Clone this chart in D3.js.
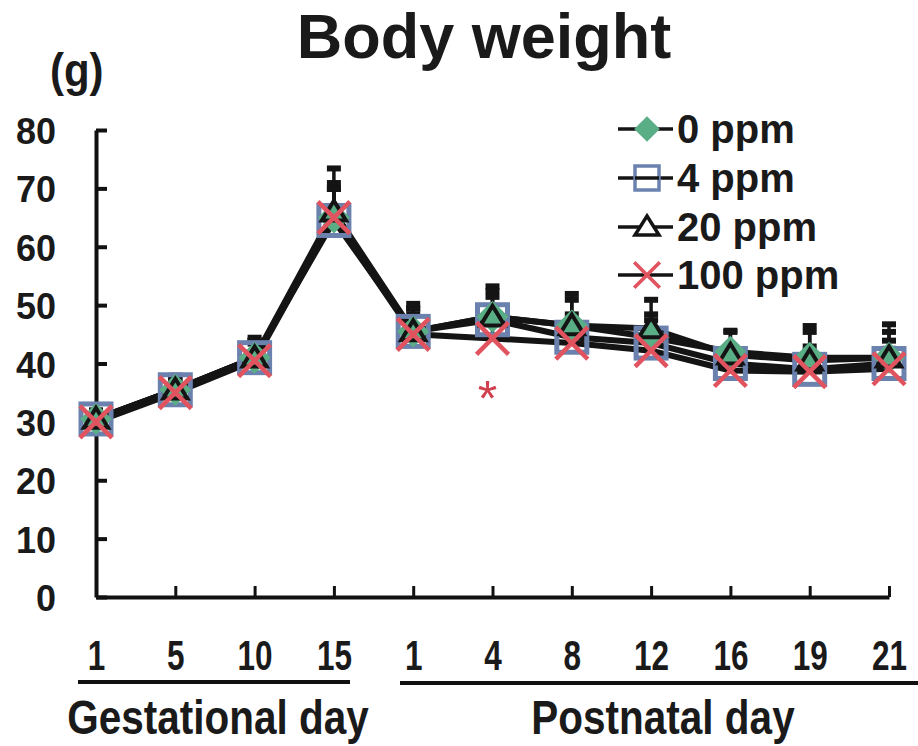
<!DOCTYPE html>
<html>
<head>
<meta charset="utf-8">
<script src="https://cdn.jsdelivr.net/npm/d3@7"></script>
<style>
  body { margin: 0; background: #fff; }
  text { font-family: Arial, "Liberation Sans", sans-serif; font-weight: bold; fill: #1a1a1a; }
</style>
</head>
<body>
<svg id="chart" width="918" height="746"></svg>
<script>
// day labels along the x axis
const days = ['1', '5', '10', '15', '1', '4', '8', '12', '16', '19', '21'];
const groupNames = ['Gestational day', 'Postnatal day'];
const yTicks = [0, 10, 20, 30, 40, 50, 60, 70, 80];

// means (g)
const ppm0   = [30.5, 35.5, 41.0, 65.0, 45.5, 48.0, 46.5, 44.5, 42.0, 41.0, 41.0];
const ppm4   = [30.5, 35.5, 41.0, 64.5, 45.5, 47.5, 44.5, 43.5, 40.0, 39.0, 40.0];
const ppm20  = [30.5, 35.5, 41.0, 66.0, 45.5, 48.0, 46.5, 46.0, 41.5, 40.5, 41.0];
const ppm100 = [30.0, 35.0, 40.5, 65.0, 45.0, 44.3, 43.5, 42.2, 38.8, 38.6, 39.1];

// SD (upper bars only)
const sd0   = [1.5, 2.0, 3.0, 6.0, 4.0, 4.5, 4.5, 4.0, 3.5, 4.5, 4.5];
const sd4   = [1.5, 2.0, 3.0, 5.5, 4.0, 4.0, 4.0, 4.0, 3.0, 4.0, 4.0];
const sd20  = [1.5, 2.5, 3.5, 7.5, 4.8, 5.3, 5.5, 5.0, 4.2, 6.0, 5.8];
const sd100 = [1.5, 2.0, 3.0, 5.0, 3.5, 3.5, 3.5, 3.5, 3.0, 3.5, 3.5];

const seriesNames = ['0 ppm', '4 ppm', '20 ppm', '100 ppm'];
const seriesMarks = ['diamond', 'square', 'triangle', 'cross'];
const signifDay = 5; // * under PND4

const series = [
  { name: seriesNames[0], mark: seriesMarks[0], vals: ppm0, sd: sd0 },
  { name: seriesNames[1], mark: seriesMarks[1], vals: ppm4, sd: sd4 },
  { name: seriesNames[2], mark: seriesMarks[2], vals: ppm20, sd: sd20 },
  { name: seriesNames[3], mark: seriesMarks[3], vals: ppm100, sd: sd100 }
];

const svg = d3.select('#chart');

const x = d3.scalePoint()
  .domain(d3.range(days.length))
  .range([96, 889]);

const y = d3.scaleLinear()
  .domain([0, 80])
  .range([597, 130]);

// title
svg.append('text')
  .attr('x', 484).attr('y', 58)
  .attr('text-anchor', 'middle')
  .style('font-size', '63px')
  .text('Body weight');

svg.append('text')
  .attr('transform', 'translate(50,86) scale(1,1.1)')
  .style('font-size', '42px')
  .text('(g)');

// y axis
const yAxis = svg.append('g')
  .attr('transform', 'translate(96,0)')
  .call(d3.axisLeft(y).tickValues(yTicks).tickSizeInner(-11).tickSizeOuter(0).tickPadding(40));
yAxis.select('.domain').attr('stroke', '#111').attr('stroke-width', 4);
yAxis.selectAll('.tick line').attr('stroke', '#111').attr('stroke-width', 4);
yAxis.selectAll('.tick text')
  .attr('fill', '#1a1a1a')
  .style('font-size', '36px')
  .style('font-family', 'Arial, "Liberation Sans", sans-serif')
  .attr('dy', '0.36em')
  .attr('transform', 'scale(1,1.05)');

// x axis
const xAxis = svg.append('g')
  .attr('transform', 'translate(0,597)')
  .call(d3.axisBottom(x).tickFormat(i => days[i]).tickSizeInner(-11).tickSizeOuter(0).tickPadding(36));
xAxis.select('.domain').attr('stroke', '#111').attr('stroke-width', 4);
xAxis.selectAll('.tick line').attr('stroke', '#111').attr('stroke-width', 3);
xAxis.selectAll('.tick text')
  .attr('fill', '#1a1a1a')
  .style('font-size', '35px')
  .style('font-family', 'Arial, "Liberation Sans", sans-serif')
  .attr('transform', 'scale(0.9,1.2)');

// group underlines + names
const underline = [[78, 350, 682], [400, 918, 683]];
const groupCenter = [218, 663];
groupNames.forEach((g, i) => {
  svg.append('line')
    .attr('x1', underline[i][0]).attr('x2', underline[i][1])
    .attr('y1', underline[i][2]).attr('y2', underline[i][2])
    .attr('stroke', '#111').attr('stroke-width', 4);
  svg.append('text')
    .attr('transform', 'translate(' + groupCenter[i] + ',734) scale(0.9,1.05)')
    .attr('text-anchor', 'middle')
    .style('font-size', '45px')
    .text(g);
});

// lines
const line = d3.line()
  .x((d, i) => x(i))
  .y(d => y(d));

series.forEach(s => {
  svg.append('path')
    .datum(s.vals)
    .attr('d', line)
    .attr('fill', 'none')
    .attr('stroke', '#141414')
    .attr('stroke-width', 6)
    .attr('stroke-linejoin', 'round');
});

// error bars
series.forEach(s => {
  const eb = svg.append('g');
  s.vals.forEach((v, i) => {
    eb.append('line')
      .attr('x1', x(i)).attr('x2', x(i))
      .attr('y1', y(v)).attr('y2', y(v + s.sd[i]))
      .attr('stroke', '#141414').attr('stroke-width', 3.5);
    eb.append('rect')
      .attr('x', x(i) - 7).attr('y', y(v + s.sd[i]) - 2.5)
      .attr('width', 14).attr('height', 6)
      .attr('fill', '#141414');
  });
});

// markers
function drawMark(g, mark, cx, cy, k) {
  if (mark === 'square') {
    g.append('rect')
      .attr('x', cx - 15 * k).attr('y', cy - 15 * k)
      .attr('width', 30 * k).attr('height', 30 * k)
      .attr('fill', 'none')
      .attr('stroke', '#6b82ae').attr('stroke-width', 5 * k);
  } else if (mark === 'diamond') {
    const r = 16 * k;
    g.append('path')
      .attr('d', 'M' + cx + ',' + (cy - r) + 'L' + (cx + r) + ',' + cy + 'L' + cx + ',' + (cy + r) + 'L' + (cx - r) + ',' + cy + 'Z')
      .attr('fill', '#5aae86');
  } else if (mark === 'triangle') {
    const h = 11 * k;
    g.append('path')
      .attr('d', 'M' + cx + ',' + (cy - h) + 'L' + (cx + h * 1.1) + ',' + (cy + h * 0.8) + 'L' + (cx - h * 1.1) + ',' + (cy + h * 0.8) + 'Z')
      .attr('fill', 'none')
      .attr('stroke', '#141414').attr('stroke-width', 4);
  } else {
    const r = 16 * k;
    g.append('path')
      .attr('d', 'M' + (cx - r) + ',' + (cy - r) + 'L' + (cx + r) + ',' + (cy + r) + 'M' + (cx - r) + ',' + (cy + r) + 'L' + (cx + r) + ',' + (cy - r))
      .attr('stroke', '#e0535f').attr('stroke-width', 4.5 * k);
  }
}

const order = [1, 0, 2, 3];
order.forEach(si => {
  const s = series[si];
  const g = svg.append('g');
  s.vals.forEach((v, i) => drawMark(g, s.mark, x(i), y(v), 1));
});

// significance asterisk
svg.append('text')
  .attr('x', x(signifDay) - 5).attr('y', 416)
  .attr('text-anchor', 'middle')
  .style('font-size', '50px')
  .style('font-weight', 'normal')
  .style('fill', '#d0404e')
  .text('*');

// legend
const legY = [129, 178, 227, 275];
series.forEach((s, i) => {
  const g = svg.append('g');
  g.append('line')
    .attr('x1', 618).attr('x2', 673)
    .attr('y1', legY[i]).attr('y2', legY[i])
    .attr('stroke', '#141414').attr('stroke-width', 3.5);
  if (s.mark === 'triangle') {
    g.append('path')
      .attr('d', 'M647,' + (legY[i] - 11) + 'L659,' + (legY[i] + 8) + 'L635,' + (legY[i] + 8) + 'Z')
      .attr('fill', '#fff').attr('stroke', '#141414').attr('stroke-width', 3.5);
  } else if (s.mark === 'square') {
    g.append('rect')
      .attr('x', 635).attr('y', legY[i] - 12)
      .attr('width', 24).attr('height', 24)
      .attr('fill', '#fff').attr('stroke', '#6b82ae').attr('stroke-width', 3.5);
    g.append('line')
      .attr('x1', 635).attr('x2', 659)
      .attr('y1', legY[i]).attr('y2', legY[i])
      .attr('stroke', '#141414').attr('stroke-width', 3.5);
  } else {
    drawMark(g, s.mark, 647, legY[i], 0.8);
  }
  g.append('text')
    .attr('x', 677).attr('y', legY[i] + 14)
    .style('font-size', '40px')
    .text(s.name);
});
</script>
</body>
</html>
